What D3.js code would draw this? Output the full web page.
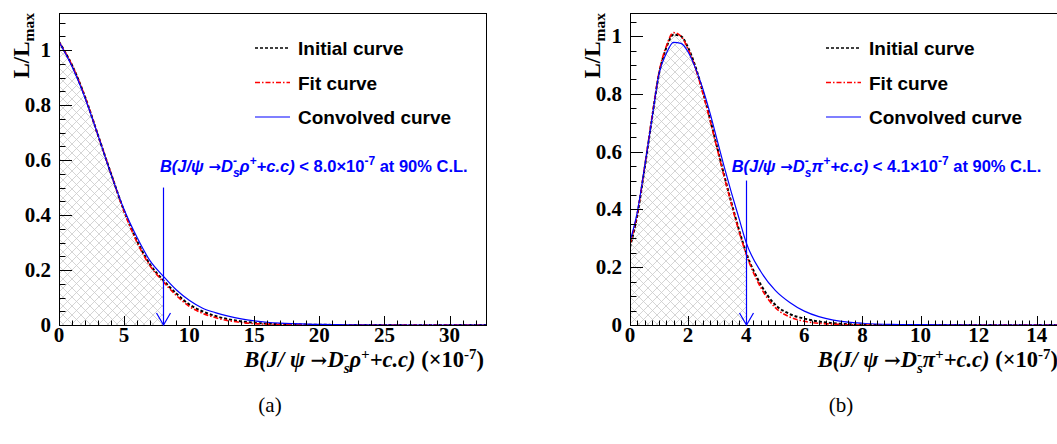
<!DOCTYPE html>
<html>
<head>
<meta charset="utf-8">
<script src="https://cdn.jsdelivr.net/npm/d3@7"></script>
<style>
  body { margin: 0; background: #fff; }
  svg { display: block; }
</style>
</head>
<body>
<svg id="chart" width="1057" height="444"></svg>
<script>
// ---- data ----
const leftX = [0, 1, 2, 3, 4, 5, 6, 7, 8, 9, 10, 11, 12, 13, 14, 15, 16, 17, 18, 20, 22, 25, 30, 33];
const leftInitial = [1.03, 0.945, 0.83, 0.69, 0.55, 0.415, 0.305, 0.22, 0.163, 0.115, 0.075, 0.05, 0.033, 0.021, 0.013, 0.008, 0.005, 0.003, 0.002, 0.001, 0, 0, 0, 0];
const leftFit = [1.03, 0.945, 0.83, 0.69, 0.55, 0.413, 0.3, 0.215, 0.158, 0.108, 0.068, 0.043, 0.027, 0.016, 0.009, 0.005, 0.003, 0.002, 0.001, 0, 0, 0, 0, 0];
const leftConvolved = [1.03, 0.94, 0.826, 0.69, 0.548, 0.42, 0.318, 0.233, 0.178, 0.128, 0.09, 0.062, 0.045, 0.032, 0.022, 0.015, 0.01, 0.007, 0.005, 0.002, 0.001, 0, 0, 0];
const leftLimit = 8.0;

const rightX = [0, 0.25, 0.5, 0.75, 1, 1.25, 1.5, 1.75, 2, 2.25, 2.5, 2.75, 3, 3.25, 3.5, 3.75, 4, 4.5, 5, 5.5, 6, 6.5, 7, 7.5, 8, 9, 10, 12, 15];
const rightInitial = [0.27, 0.38, 0.54, 0.71, 0.87, 0.96, 1.005, 1.0, 0.96, 0.895, 0.81, 0.715, 0.615, 0.515, 0.42, 0.33, 0.25, 0.14, 0.07, 0.038, 0.022, 0.012, 0.006, 0.003, 0.001, 0, 0, 0, 0];
const rightFit = [0.28, 0.385, 0.545, 0.715, 0.875, 0.965, 1.012, 1.0, 0.955, 0.89, 0.805, 0.71, 0.61, 0.51, 0.415, 0.325, 0.245, 0.13, 0.06, 0.028, 0.013, 0.006, 0.003, 0.001, 0, 0, 0, 0, 0];
const rightConvolved = [0.29, 0.39, 0.545, 0.71, 0.87, 0.94, 0.978, 0.975, 0.945, 0.89, 0.82, 0.735, 0.64, 0.545, 0.455, 0.37, 0.285, 0.185, 0.12, 0.078, 0.048, 0.029, 0.017, 0.01, 0.006, 0.002, 0.001, 0, 0];
const rightLimit = 4.0;

const legendLabels = ["Initial curve", "Fit curve", "Convolved curve"];
const yMajorTicks = [0, 0.2, 0.4, 0.6, 0.8, 1];
const leftXMajorTicks = [0, 5, 10, 15, 20, 25, 30];
const rightXMajorTicks = [0, 2, 4, 6, 8, 10, 12, 14];

const curveStyles = [
  { color: "#000", width: 2, dash: "3,2" },
  { color: "#ff0000", width: 1.6, dash: "5,2,1.5,2" },
  { color: "#0000ff", width: 1.2, dash: null }
];

const svg = d3.select("#chart");
svg.append("rect").attr("width", 1057).attr("height", 444).attr("fill", "#fff");

const defs = svg.append("defs");
const hatch = defs.append("pattern")
  .attr("id", "hatch").attr("patternUnits", "userSpaceOnUse")
  .attr("width", 9).attr("height", 9);
hatch.append("path").attr("d", "M0,0L9,9M-4.5,4.5L4.5,13.5M4.5,-4.5L13.5,4.5M0,9L9,0M-4.5,4.5L4.5,-4.5M4.5,13.5L13.5,4.5")
  .attr("stroke", "#cacaca").attr("stroke-width", 0.8);

// rich text: parts with superscript/subscript shifts
function rich(sel, parts) {
  let prev = 0;
  parts.forEach(p => {
    const sh = p.sh || 0;
    const ts = sel.append("tspan").text(p.t).attr("dy", prev - sh);
    if (p.dx) ts.attr("dx", p.dx);
    if (p.fs) ts.style("font-size", p.fs + "px");
    if (p.style) ts.style("font-style", p.style);
    if (p.font) ts.style("font-family", p.font);
    prev = sh;
  });
}

const drawPanel = (cfg) => {
  const x = d3.scaleLinear().domain([0, cfg.xMax]).range([cfg.left, cfg.right]);
  const y = d3.scaleLinear().domain([0, cfg.yMax]).range([cfg.bottom, cfg.top]);
  const g = svg.append("g");

  const clipId = "clip-" + cfg.id;
  defs.append("clipPath").attr("id", clipId).append("rect")
    .attr("x", cfg.left).attr("y", cfg.top)
    .attr("width", cfg.right - cfg.left).attr("height", cfg.bottom - cfg.top);
  const hatchClip = "hclip-" + cfg.id;
  defs.append("clipPath").attr("id", hatchClip).append("rect")
    .attr("x", cfg.left).attr("y", cfg.top)
    .attr("width", x(cfg.limit) - cfg.left).attr("height", cfg.bottom - cfg.top);

  const pts = (vals) => cfg.xs.map((d, i) => [d, vals[i]]);

  // hatched area up to the limit
  const area = d3.area().x(d => x(d[0])).y0(y(0)).y1(d => y(d[1])).curve(d3.curveMonotoneX);
  g.append("path").datum(pts(cfg.curves[1]))
    .attr("d", area).attr("fill", "url(#hatch)")
    .attr("clip-path", `url(#${hatchClip})`);

  // curves
  const line = d3.line().x(d => x(d[0])).y(d => y(d[1])).curve(d3.curveMonotoneX);
  const cg = g.append("g").attr("clip-path", `url(#${clipId})`);
  cfg.curves.forEach((vals, i) => {
    const st = curveStyles[i];
    cg.append("path").datum(pts(vals))
      .attr("d", line).attr("fill", "none")
      .attr("stroke", st.color).attr("stroke-width", st.width)
      .attr("stroke-dasharray", st.dash);
  });

  // frame
  g.append("rect")
    .attr("x", cfg.left + 0.5).attr("y", cfg.top + 0.5)
    .attr("width", cfg.right - cfg.left).attr("height", cfg.bottom - cfg.top)
    .attr("fill", "none").attr("stroke", "#000").attr("stroke-width", 1);

  // y ticks
  const yTickLen = 13;
  const yMinor = d3.range(0, cfg.yMax, 0.05);
  g.append("g").selectAll("line").data(yMinor).join("line")
    .attr("x1", cfg.left).attr("x2", (d, i) => cfg.left + (i % 4 === 0 ? yTickLen : yTickLen / 2))
    .attr("y1", d => Math.round(y(d)) + 0.5).attr("y2", d => Math.round(y(d)) + 0.5)
    .attr("stroke", "#000").attr("stroke-width", 1);
  g.append("g").selectAll("text").data(yMajorTicks).join("text")
    .attr("x", cfg.left - 8).attr("y", d => y(d) + 7)
    .attr("text-anchor", "end")
    .style("font-family", "'Liberation Serif', 'Times New Roman', serif")
    .style("font-weight", "bold").style("font-size", "21px")
    .text(d => d3.format("~g")(d));

  // x ticks
  const xTickLen = 9;
  const xMinor = d3.range(0, cfg.xMax + 1e-9, cfg.xMinorStep);
  g.append("g").selectAll("line").data(xMinor).join("line")
    .attr("x1", d => Math.round(x(d)) + 0.5).attr("x2", d => Math.round(x(d)) + 0.5)
    .attr("y1", cfg.bottom)
    .attr("y2", d => cfg.bottom - (cfg.xMajor.some(m => Math.abs(m - d) < 1e-6) ? xTickLen : xTickLen / 2))
    .attr("stroke", "#000").attr("stroke-width", 1);
  g.append("g").selectAll("text").data(cfg.xMajor).join("text")
    .attr("x", d => x(d)).attr("y", cfg.bottom + 17)
    .attr("text-anchor", "middle")
    .style("font-family", "'Liberation Serif', 'Times New Roman', serif")
    .style("font-weight", "bold").style("font-size", "21px")
    .text(d => d);

  // x title
  const xt = g.append("text")
    .attr("x", cfg.right - 2).attr("y", cfg.bottom + 42)
    .attr("text-anchor", "end")
    .style("font-family", "'Liberation Serif', 'Times New Roman', serif")
    .style("font-weight", "bold").style("font-style", "italic").style("font-size", "22.5px");
  rich(xt, [
    { t: "B(J/ ψ " },
    { t: "→", font: "'DejaVu Serif', serif", style: "normal", fs: 20 },
    { t: "D" },
    { t: "-", sh: 8, fs: 15 },
    { t: "s", sh: -6, fs: 15, dx: -5 },
    { t: cfg.meson },
    { t: "+", sh: 8, fs: 15 },
    { t: "+c.c) " },
    { t: "(×10", style: "normal" },
    { t: "-7", sh: 8, fs: 15, style: "normal" },
    { t: ")", style: "normal" }
  ]);

  // y title
  const yt = g.append("text")
    .attr("transform", `translate(${cfg.left - 30},${cfg.top}) rotate(-90)`)
    .attr("text-anchor", "end")
    .style("font-family", "'Liberation Serif', 'Times New Roman', serif")
    .style("font-weight", "bold").style("font-size", "23px");
  rich(yt, [{ t: "L/L" }, { t: "max", sh: -5, fs: 15.5 }]);

  // legend
  const lg = g.append("g");
  legendLabels.forEach((lab, i) => {
    const ly = cfg.top + 35 + i * 34.5;
    const st = curveStyles[i];
    lg.append("line")
      .attr("x1", cfg.left + 196).attr("x2", cfg.left + 231)
      .attr("y1", ly).attr("y2", ly)
      .attr("stroke", st.color).attr("stroke-width", i === 2 ? 1.2 : 1.5)
      .attr("stroke-dasharray", st.dash);
    lg.append("text")
      .attr("x", cfg.left + 239).attr("y", ly + 7)
      .style("font-family", "'Liberation Sans', Arial, sans-serif")
      .style("font-weight", "bold").style("font-size", "19px")
      .text(lab);
  });

  // arrow at the limit
  const ax = Math.round(x(cfg.limit)) + 0.5;
  g.append("line").attr("x1", ax).attr("x2", ax)
    .attr("y1", y(0.5)).attr("y2", y(0))
    .attr("stroke", "#0000ff").attr("stroke-width", 1.2);
  g.append("path")
    .attr("d", `M${ax - 7},${y(0) - 12}L${ax},${y(0)}L${ax + 7},${y(0) - 12}`)
    .attr("fill", "none").attr("stroke", "#0000ff").attr("stroke-width", 1.2);

  // annotation
  const nt = g.append("text")
    .attr("x", x(cfg.noteX)).attr("y", y(cfg.noteY))
    .attr("fill", "#0000ff")
    .style("font-family", "'Liberation Sans', Arial, sans-serif")
    .style("font-weight", "bold").style("font-style", "italic").style("font-size", "16.5px");
  rich(nt, [
    { t: "B(J/ψ " },
    { t: "→", font: "'DejaVu Sans', sans-serif", style: "normal", fs: 15 },
    { t: "D" },
    { t: "-", sh: 7, fs: 12 },
    { t: "s", sh: -5, fs: 12, dx: -4 },
    { t: cfg.meson },
    { t: "+", sh: 7, fs: 12 },
    { t: "+c.c) " },
    { t: "< " + cfg.limitText + "×10", style: "normal" },
    { t: "-7", sh: 7, fs: 12, style: "normal" },
    { t: " at 90% C.L.", style: "normal" }
  ]);

  // caption
  svg.append("text")
    .attr("x", cfg.captionX).attr("y", 412)
    .attr("text-anchor", "middle")
    .style("font-family", "'Liberation Serif', 'Times New Roman', serif")
    .style("font-size", "21px")
    .text(cfg.caption);
};

drawPanel({
  id: "a", left: 59, right: 486, top: 13, bottom: 325,
  xMax: 32.8, yMax: 1.135, xMinorStep: 1, xMajor: leftXMajorTicks,
  xs: leftX, curves: [leftInitial, leftFit, leftConvolved],
  limit: leftLimit, limitText: "8.0", meson: "ρ",
  noteX: 7.75, noteY: 0.556, caption: "(a)", captionX: 270
});

drawPanel({
  id: "b", left: 630, right: 1060, top: 13, bottom: 325,
  xMax: 14.8, yMax: 1.08, xMinorStep: 0.25, xMajor: rightXMajorTicks,
  xs: rightX, curves: [rightInitial, rightFit, rightConvolved],
  limit: rightLimit, limitText: "4.1", meson: "π",
  noteX: 3.5, noteY: 0.53, caption: "(b)", captionX: 841
});
</script>
</body>
</html>
